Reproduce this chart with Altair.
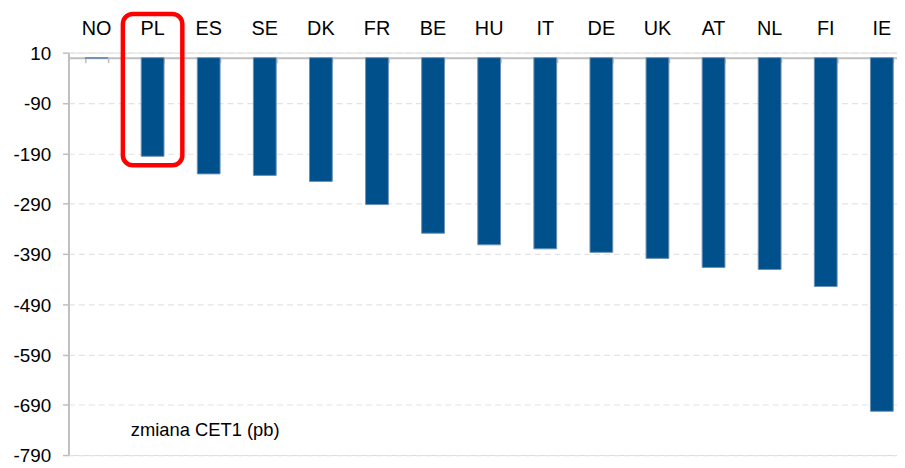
import altair as alt
import pandas as pd

countries = ["NO", "PL", "ES", "SE", "DK", "FR", "BE", "HU", "IT", "DE", "UK", "AT", "NL", "FI", "IE"]
cet1_change = [-1, -196, -231, -234, -246, -292, -349, -372, -380, -387, -399, -417, -421, -455, -703]
y_ticks = [10, -90, -190, -290, -390, -490, -590, -690, -790]

highlight_country = ["PL"]
highlight_top = [87]
highlight_bottom = [-214]

note_text = ["zmiana CET1 (pb)"]
note_y = [-740]

df = pd.DataFrame({"country": countries, "value": cet1_change})
hl = pd.DataFrame({"country": highlight_country, "top": highlight_top, "bottom": highlight_bottom})
note = pd.DataFrame({"country": ["PL"], "text": note_text, "y": note_y})

FONT = "Liberation Sans"
H = 406
W = 836
zero_px = 10 / 800 * H

xscale = alt.Scale(domain=countries, range=[0, 849], paddingInner=0.594, paddingOuter=0.297)
yscale = alt.Scale(domain=[-790, 10], nice=False, zero=False)

bars = alt.Chart(df).mark_bar(color="#00508c", stroke="#6a8fb8", strokeWidth=1).encode(
    x=alt.X("country:N", sort=None, scale=xscale, title=None,
            axis=alt.Axis(orient="top", domain=False, ticks=False, labelAngle=0,
                          labelFontSize=20, labelFont=FONT, labelColor="#000000",
                          labelPadding=14, grid=False)),
    y=alt.Y("value:Q", scale=yscale, title=None,
            axis=alt.Axis(values=y_ticks, labelExpr="'' + datum.value",
                          labelFontSize=19, labelFont=FONT, labelColor="#000000",
                          labelPadding=12, labelBaseline="middle", labelOffset=1,
                          tickSize=6, tickColor="#bfbfbf", tickWidth=1.5,
                          domainColor="#bfbfbf", domainWidth=2,
                          grid=True, gridColor="#e3e3e3", gridDash=[6, 4], gridWidth=1.2)),
)

baseline = alt.Chart(df).mark_bar(opacity=0).encode(
    x=alt.X("country:N", sort=None, scale=xscale, title=None,
            axis=alt.Axis(orient="bottom", labels=False, offset=-(H - zero_px),
                          domainColor="#bfbfbf", domainWidth=2, tickColor="#bfbfbf",
                          tickWidth=1.5, tickSize=5, tickBand="extent", grid=False)),
    y=alt.Y("value:Q", scale=yscale, title=None),
)

highlight = alt.Chart(hl).mark_bar(filled=False, stroke="#ff0000", strokeWidth=4.5,
                                   width=60, cornerRadius=10).encode(
    x=alt.X("country:N", sort=None, scale=xscale, axis=None),
    y=alt.Y("top:Q", scale=yscale, title=None),
    y2="bottom:Q",
)

label = alt.Chart(note).mark_text(align="left", baseline="middle", dx=-22,
                                  font=FONT, fontSize=18.5, color="#000000").encode(
    x=alt.X("country:N", sort=None, scale=xscale, axis=None),
    y=alt.Y("y:Q", scale=yscale, title=None),
    text="text:N",
)

chart = alt.layer(bars, baseline, highlight, label).resolve_axis(x="independent").properties(
    width=W, height=H,
    autosize=alt.AutoSizeParams(type="none"),
    padding={"left": 61, "top": 43, "right": 0, "bottom": 12},
).configure_view(stroke=None).configure(background="#ffffff")

chart.save("out.html", embed_options={"renderer": "svg", "actions": False})
